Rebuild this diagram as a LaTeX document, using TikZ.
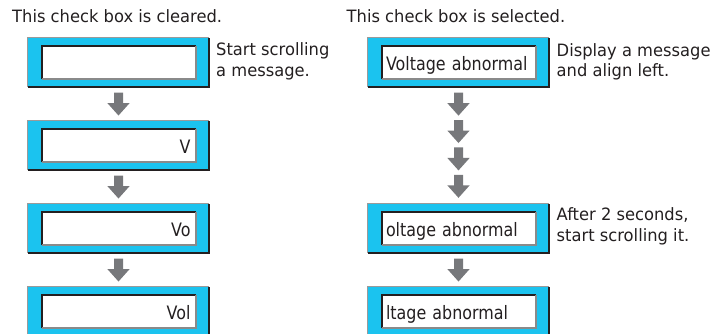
\documentclass[tikz,border=0pt]{standalone}
\usepackage{fontspec}
\setmainfont[FakeStretch=0.96]{DejaVu Sans}
\newfontfamily\innerfont[FakeStretch=0.86]{DejaVu Sans}
\usetikzlibrary{calc}
\hyphenpenalty=10000
\definecolor{scrcyan}{HTML}{1BC3EF}
\definecolor{arrgray}{HTML}{77787B}
\definecolor{inkc}{HTML}{231F20}
\definecolor{edgelight}{HTML}{9A9A9A}
\definecolor{edgemid}{HTML}{8A8A8A}
\tikzset{
  lbl/.style={font=\fontsize{17}{20.8}\selectfont, text=inkc, inner sep=0pt, align=left},
  outerbox/.style={fill=scrcyan, minimum width=181pt, minimum height=49pt, inner sep=0pt},
  innerbox/.style={fill=white, minimum width=154pt, minimum height=33pt, inner xsep=4pt, inner ysep=0pt,
    text width=146pt, text height=16pt, text depth=1pt, font=\innerfont\fontsize{18.5}{20}\selectfont, text=inkc},
  lightedge/.style={draw=edgelight, line width=1.2pt},
  darkedge/.style={draw=inkc, line width=2pt},
  inndark/.style={draw=inkc, line width=2pt},
  innlight/.style={draw=edgemid, line width=1.5pt},
  downarr/.pic={\fill[arrgray] (-4.5,-11.5) -- (4.5,-11.5) -- (4.5,-1) -- (11.2,-1) -- (0,11.5) -- (-11.2,-1) -- (-4.5,-1) -- cycle;}
}
\begin{document}
\begin{tikzpicture}[x=1pt,y=-1pt]
\useasboundingbox (0,0) rectangle (715,333);
\clip (0,0) rectangle (715,333);
% titles
\node[lbl, anchor=base west] (t1) at (12,22) {This check box is cleared.};
\node[lbl, anchor=base west] (t2) at (346.5,22) {This check box is selected.};
% outer boxes
\foreach \n/\x/\y in {L1/118.5/62.5, L2/118.5/145.5, L3/118.5/228.5, L4/118.5/311.5,
                     R1/458.5/62.5, R2/458.5/228.5, R3/458.5/311.5}{
  \node[outerbox] (\n) at (\x,\y) {};
  \draw[lightedge] (\n.south west) |- (\n.north east);
  \draw[darkedge] (\n.south west) -| (\n.north east);
}
% inner boxes
\node[innerbox, align=right] (I1) at ($(L1.center)+(0.5,0)$) {};
\node[innerbox, align=right] (I2) at ($(L2.center)+(0.5,0)$) {V\hspace*{1.5pt}};
\node[innerbox, align=right] (I3) at ($(L3.center)+(0.5,0)$) {Vo\hspace*{1.5pt}};
\node[innerbox, align=right] (I4) at ($(L4.center)+(0.5,0)$) {Vol\hspace*{1.5pt}};
\node[innerbox, align=left] (J1) at ($(R1.center)+(0.5,0)$) {Voltage abnormal};
\node[innerbox, align=left] (J2) at ($(R2.center)+(0.5,0)$) {oltage abnormal};
\node[innerbox, align=left] (J3) at ($(R3.center)+(0.5,0)$) {ltage abnormal};
\foreach \n in {I1,I2,I3,I4,J1,J2,J3}{
  \draw[inndark] (\n.south west) |- (\n.north east);
  \draw[innlight] (\n.south west) -| (\n.north east);
}
% arrows
\path ($(L1.south)!0.5!(L2.north)$) pic {downarr};
\path ($(L2.south)!0.5!(L3.north)$) pic {downarr};
\path ($(L3.south)!0.5!(L4.north)$) pic {downarr};
\foreach \f in {0.145,0.38,0.615,0.85}{
  \path ($(R1.south)!\f!(R2.north)$) pic {downarr};
}
\path ($(R2.south)!0.5!(R3.north)$) pic {downarr};
% notes (base anchor = baseline of the last line)
\node[lbl, anchor=base west] (n1) at (216,76.5) {Start scrolling\\a message.};
\node[lbl, anchor=base west] (n2) at (556.5,76.8) {Display a message\\and align left.};
\node[lbl, anchor=base west] (n3) at (556.5,241.5) {After 2 seconds,\\start scrolling it.};
\end{tikzpicture}
\end{document}
